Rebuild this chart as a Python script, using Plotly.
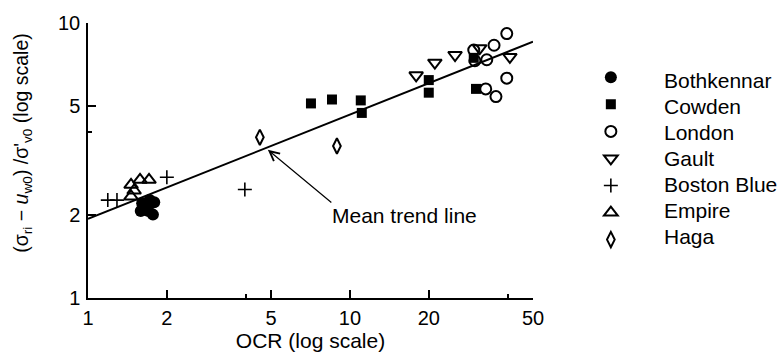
import plotly.graph_objects as go
import math

# ---- data (OCR, normalised stress ratio) ----
bothkennar_ocr = [1.61, 1.72, 1.79, 1.59, 1.70, 1.77, 1.66]
bothkennar_val = [2.21, 2.27, 2.23, 2.07, 2.07, 2.01, 2.14]

cowden_ocr = [7.10, 8.54, 11.0, 11.1, 20.0, 20.0, 30.3, 29.7]
cowden_val = [5.10, 5.27, 5.23, 4.71, 6.20, 5.58, 5.76, 7.47]

london_ocr = [29.7, 35.5, 39.7, 30.0, 33.3, 39.7, 33.0, 36.1]
london_val = [7.97, 8.30, 9.15, 7.29, 7.35, 6.30, 5.76, 5.40]

gault_ocr = [17.9, 21.1, 25.2, 31.3, 40.8]
gault_val = [6.45, 7.17, 7.65, 8.10, 7.53]

boston_ocr = [1.19, 1.29, 2.0, 3.97]
boston_val = [2.27, 2.27, 2.75, 2.48]

empire_ocr = [1.46, 1.58, 1.71, 1.50, 1.46]
empire_val = [2.58, 2.69, 2.69, 2.46, 2.34]

haga_ocr = [4.53, 8.92]
haga_val = [3.84, 3.57]

trend_ocr = [1, 50]
trend_val = [1.94, 8.55]

arrow_tip_ocr = 4.86
arrow_tip_val = 3.46

series_names = ["Bothkennar", "Cowden", "London", "Gault",
                "Boston Blue", "Empire", "Haga"]

x_ticks = [1, 2, 5, 10, 20, 50]
x_minor = [4, 40]
y_ticks = [1, 2, 5, 10]
y_minor = [4]

FONT = "Liberation Sans, Arial, Helvetica, sans-serif"
FS_TICK = 20
FS_TEXT = 21

fig = go.Figure()

fig.add_trace(go.Scatter(x=trend_ocr, y=trend_val, mode="lines",
                         line=dict(color="black", width=2), showlegend=False,
                         hoverinfo="skip"))

styles = [
    ("circle", 12, 0),
    ("square", 10, 0),
    ("circle-open", 11, 2),
    ("triangle-down-open", 12, 2),
    ("cross-thin-open", 10, 1.6),
    ("triangle-up-open", 12, 2),
    ("diamond-tall-open", 11, 2),
]
data = [(bothkennar_ocr, bothkennar_val), (cowden_ocr, cowden_val),
        (london_ocr, london_val), (gault_ocr, gault_val),
        (boston_ocr, boston_val), (empire_ocr, empire_val),
        (haga_ocr, haga_val)]
for name, (xs, ys), (sym, sz, lw) in zip(series_names, data, styles):
    fig.add_trace(go.Scatter(
        x=xs, y=ys, mode="markers", name=" ", hovertext=name,
        marker=dict(symbol=sym, size=sz, color="black",
                    line=dict(color="black", width=lw)),
    ))

# legend texts (drawn as annotations next to the legend symbols)
row0_px, row_step_px = 73, 27.0
for i, name in enumerate(series_names):
    ypx = row0_px + i * row_step_px
    fig.add_annotation(x=(662 - 88) / 445, y=(298 - ypx) / 284,
                       xref="paper", yref="paper", text=name,
                       showarrow=False, xanchor="left", yanchor="middle",
                       font=dict(size=FS_TEXT, color="black", family=FONT))

fig.add_annotation(x=math.log10(arrow_tip_ocr), y=math.log10(arrow_tip_val),
                   xref="x", yref="y", text="", showarrow=True,
                   ax=65, ay=54, arrowhead=5, arrowsize=1.6, arrowwidth=1.2,
                   arrowcolor="black")
fig.add_annotation(x=0.712, y=0.30, xref="paper", yref="paper",
                   text="Mean trend line", showarrow=False,
                   xanchor="center", yanchor="middle",
                   font=dict(size=FS_TEXT, color="black", family=FONT))
fig.add_annotation(x=-0.148, y=0.565, xref="paper", yref="paper",
                   text="(σ<sub>ri</sub> − <i>u</i><sub>w0</sub>) /σ'<sub>v0</sub> (log scale)",
                   textangle=-90, showarrow=False,
                   xanchor="center", yanchor="middle",
                   font=dict(size=19.5, color="black", family=FONT))

fig.update_xaxes(type="log", range=[0, math.log10(50)],
                 tickvals=x_ticks, ticktext=[str(v) for v in x_ticks],
                 ticks="inside", ticklen=8, tickwidth=1.5, tickcolor="black",
                 minor=dict(tickvals=x_minor, ticks="inside", ticklen=4,
                            tickwidth=1.5, tickcolor="black", showgrid=False),
                 showline=True, linecolor="black", linewidth=1.5,
                 showgrid=False, zeroline=False, ticklabelstandoff=1,
                 title=dict(text="OCR (log scale)", standoff=0,
                            font=dict(size=FS_TEXT, color="black", family=FONT)),
                 tickfont=dict(size=FS_TICK, color="black", family=FONT))
fig.update_yaxes(type="log", range=[0, 1],
                 tickvals=y_ticks, ticktext=[str(v) for v in y_ticks],
                 ticks="inside", ticklen=8, tickwidth=1.5, tickcolor="black",
                 minor=dict(tickvals=y_minor, ticks="inside", ticklen=4,
                            tickwidth=1.5, tickcolor="black", showgrid=False),
                 showline=True, linecolor="black", linewidth=1.5,
                 showgrid=False, zeroline=False, ticklabelstandoff=2,
                 tickfont=dict(size=FS_TICK, color="black", family=FONT))

fig.update_layout(
    width=777, height=360,
    margin=dict(l=88, r=244, t=14, b=62),
    paper_bgcolor="white", plot_bgcolor="white",
    font=dict(family=FONT, size=FS_TICK, color="black"),
    legend=dict(x=1.13, y=0.87, xanchor="left", yanchor="top",
                font=dict(size=18.5, color="black", family=FONT),
                bgcolor="rgba(0,0,0,0)", itemwidth=30),
)

fig.write_html("out.html")
